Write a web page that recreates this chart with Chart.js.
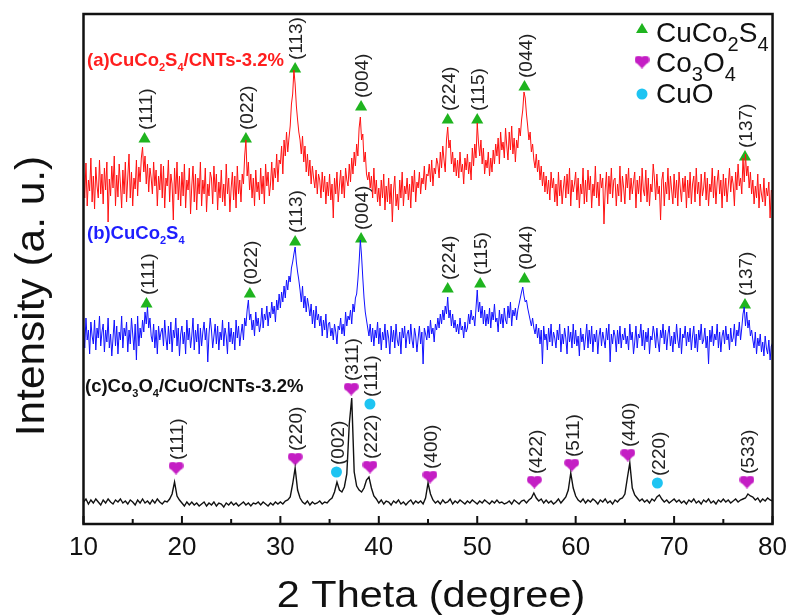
<!DOCTYPE html>
<html>
<head>
<meta charset="utf-8">
<script src="https://cdn.jsdelivr.net/npm/chart.js@4.4.1/dist/chart.umd.min.js"></script>
<style>
  html, body { margin: 0; padding: 0; background: #fff; }
  #wrap { width: 795px; height: 616px; }
</style>
</head>
<body>
<div id="wrap"><canvas id="xrd" width="795" height="616"></canvas></div>
<script>
const FONT = '"Liberation Sans", Arial, sans-serif';

// scan grids: start at 10 deg; sulfide scans at 0.125 deg, oxide scan at 0.25 deg
const thetaStart = 10;
const fineStep = 0.125;
const coarseStep = 0.25;

// (a) CuCo2S4/CNTs-3.2%  (one row per degree, 10..79, then 80)
const redCounts = [
  352,326,361,318,344,333,366,322,
  348,315,357,338,326,364,330,350,
  320,356,334,362,302,345,328,358,
  336,368,318,349,327,360,340,316,
  354,330,362,322,347,370,326,352,
  318,346,335,364,328,357,342,366,
  377,352,368,340,360,332,356,346,
  330,362,338,354,318,348,334,360,
  326,358,316,346,338,364,322,350,
  340,304,356,330,362,324,348,318,
  352,328,360,316,344,334,356,310,
  338,358,322,350,314,346,330,362,
  318,344,330,356,312,340,328,352,
  346,320,358,332,350,314,342,326,
  354,322,340,318,360,330,346,312,
  336,352,324,348,316,358,330,344,
  322,350,340,368,384,348,362,334,
  350,326,346,318,354,332,342,324,
  356,330,348,320,360,338,352,328,
  340,362,334,356,346,370,342,364,
  360,378,350,384,368,392,372,386,
  398,420,430,454,440,418,404,392,
  384,370,388,362,378,352,370,348,
  364,340,358,346,336,354,330,350,
  344,326,352,332,348,320,342,328,
  350,324,340,306,346,330,352,322,
  338,354,330,348,326,356,344,338,
  360,342,366,350,372,358,380,368,
  396,407,384,390,362,372,350,344,
  352,336,348,326,356,330,344,322,
  336,318,344,326,350,314,338,322,
  346,320,340,302,334,348,318,330,
  314,344,326,352,318,338,330,346,
  324,340,316,348,332,354,322,342,
  336,352,330,346,340,358,334,350,
  348,360,342,364,338,356,350,366,
  360,346,372,356,378,364,352,384,
  397,376,384,360,372,352,366,348,
  364,346,372,352,360,340,366,354,
  370,350,362,344,376,358,380,366,
  401,382,368,384,360,376,350,364,
  356,372,348,366,352,374,360,380,
  368,386,360,392,374,382,366,396,
  378,364,392,374,398,370,386,362,
  384,376,396,388,404,414,432,426,
  410,398,384,392,372,380,364,356,
  370,352,364,344,358,338,352,332,
  348,330,344,324,352,336,346,322,
  340,318,352,328,344,320,336,348,
  326,350,330,356,318,344,332,340,
  352,324,346,316,340,330,356,320,
  344,322,354,334,348,316,340,328,
  358,326,342,318,350,336,346,300,
  334,352,320,348,330,356,326,344,
  346,318,340,328,358,322,348,336,
  320,350,336,356,324,346,330,342,
  352,316,344,330,348,322,356,334,
  328,354,322,346,318,340,332,360,
  346,324,350,330,338,304,344,352,
  318,342,330,356,324,348,334,320,
  350,326,344,318,352,336,322,346,
  332,348,316,344,326,352,320,340,
  348,322,356,330,342,318,350,328,
  336,352,324,346,318,340,332,356,
  326,348,320,342,354,330,344,316,
  350,328,346,322,338,356,332,348,
  340,318,352,334,360,338,346,330,
  366,342,370,348,358,336,352,330,
  344,320,338,326,350,316,340,330,
  322,346,318,336,328,342,306,334,
  331
];

// (b) CuCo2S4
const blueCounts = [
  198,176,206,184,194,170,202,188,
  180,204,174,196,186,208,178,192,
  200,172,194,182,206,176,190,168,
  186,204,178,198,170,192,184,208,
  176,196,188,202,172,194,180,206,
  190,174,200,164,208,178,196,186,
  204,192,212,200,217,196,206,188,
  182,200,176,194,170,198,184,192,
  196,178,204,186,174,198,180,202,
  172,194,186,206,178,196,168,190,
  198,180,192,170,204,184,196,176,
  188,206,174,194,182,200,170,196,
  178,192,202,184,196,162,190,206,
  194,176,188,200,180,198,174,192,
  184,204,178,196,188,170,202,182,
  196,180,192,174,204,186,198,178,
  190,200,184,206,198,214,224,204,
  210,194,204,188,212,198,206,192,
  200,216,196,210,204,218,198,212,
  206,222,210,218,202,224,214,230,
  216,232,222,238,226,244,234,248,
  242,256,262,270,277,262,252,244,
  234,222,238,216,228,212,226,218,
  208,220,200,214,196,218,204,210,
  198,208,188,204,194,210,186,200,
  202,188,196,184,200,192,180,198,
  194,206,190,200,188,212,198,208,
  204,214,200,220,212,226,230,244,
  262,284,268,246,226,212,204,196,
  188,200,182,196,178,194,186,202,
  180,196,174,192,184,200,176,194,
  186,170,198,182,194,176,200,184,
  178,192,170,196,186,198,176,190,
  194,180,200,184,176,196,188,172,
  186,198,180,192,160,196,190,184,
  198,186,204,190,196,182,200,194,
  206,196,210,200,214,204,218,210,
  227,206,214,198,210,196,204,192,
  200,190,206,194,198,186,202,192,
  196,210,200,214,204,208,198,216,
  234,212,222,206,218,200,214,198,
  210,200,216,196,212,204,220,202,
  206,192,214,200,210,196,216,204,
  200,218,206,222,198,214,208,216,
  204,214,220,226,232,237,228,222,
  224,216,210,204,198,206,196,190,
  200,186,196,180,194,160,198,184,
  190,174,196,182,200,178,192,186,
  176,194,184,200,172,190,180,196,
  186,170,198,182,192,176,200,180,
  194,178,188,168,196,182,190,174,
  186,200,176,194,180,198,172,190,
  182,194,170,188,196,178,192,184,
  176,196,184,200,162,190,180,194,
  188,172,194,180,198,176,190,184,
  196,180,188,174,200,184,192,170,
  182,198,176,190,186,200,178,194,
  174,192,182,196,170,188,184,198,
  190,176,196,182,172,194,186,200,
  180,194,174,190,198,178,188,172,
  192,180,200,184,176,196,170,190,
  186,198,178,192,182,196,174,188,
  198,176,190,172,194,184,200,180,
  184,196,176,188,160,194,182,198,
  178,190,184,200,176,192,172,188,
  194,180,198,184,190,174,196,182,
  186,200,178,194,188,202,184,196,
  210,217,198,212,196,204,188,194,
  184,176,192,170,186,178,190,172,
  182,168,188,176,170,184,164,178,
  181
];

// (c) Co3O4/CuO/CNTs-3.2%  (two degrees per row, 10..79, then 80)
const blackCounts = [
  22,25,20,24, 21,25,22,19,
  24,21,25,22, 20,24,22,25,
  21,23,20,24, 22,19,24,21,
  25,21,23,20, 24,21,25,22,
  20,23,22,25, 30,42,28,24,
  21,18,22,19, 22,19,21,18,
  20,22,18,21, 19,22,18,21,
  20,17,21,19, 22,19,21,18,
  20,22,19,21, 18,21,20,22,
  19,22,20,18, 21,19,22,20,
  22,20,23,24, 27,40,56,34,
  26,22,20,23, 19,22,20,21,
  23,20,22,21, 24,26,32,42,
  34,32,37,50, 100,126,52,38,
  34,32,36,44, 47,36,28,25,
  21,24,20,23, 22,19,23,21,
  24,20,22,19, 22,24,20,23,
  21,23,20,26, 41,30,24,21,
  23,20,24,21, 22,25,20,23,
  21,24,22,20, 23,21,24,22,
  20,23,21,24, 22,20,23,21,
  24,21,22,20, 21,23,20,24,
  22,20,23,24, 21,24,26,31,
  26,23,25,21, 24,21,23,20,
  22,25,21,24, 27,34,51,36,
  28,24,22,25, 21,24,22,25,
  23,20,24,22, 25,21,23,20,
  24,22,25,26, 30,46,61,36,
  29,26,23,25, 22,24,21,25,
  23,27,29,25, 22,24,21,23,
  25,22,24,21, 23,20,24,22,
  25,21,23,20, 24,22,25,21,
  23,20,24,22, 25,22,24,21,
  23,25,22,24, 25,26,30,28,
  27,24,26,22, 25,23,26,24,
  23
];

// peak markers (2theta, marker height in intensity units, hkl)
const redPeakTheta = [16.2, 26.5, 31.5, 38.2, 47.0, 50.0, 54.8, 77.2];
const redPeakY = [385, 385, 455, 417, 404, 404, 437, 367];
const bluePeakTheta = [16.4, 26.9, 31.5, 38.2, 47.0, 50.3, 54.8, 77.2];
const bluePeakY = [220, 230, 282, 285, 235, 240, 245, 219];
const cuco2s4Hkl = ['(111)', '(022)', '(113)', '(004)', '(224)', '(115)', '(044)', '(137)'];

const co3o4Theta = [19.4, 31.5, 37.2, 39.1, 45.2, 55.8, 59.6, 65.3, 77.4];
const co3o4Y = [56, 65, 135, 57, 47, 42, 59, 69, 42];
const co3o4Hkl = ['(111)', '(220)', '(311)', '(222)', '(400)', '(422)', '(511)', '(440)', '(533)'];

const cuoTheta = [35.7, 39.1, 68.3];
const cuoY = [52, 120, 41];
const cuoHkl = ['(002)', '(111)', '(220)'];

const majorTicks = [10, 20, 30, 40, 50, 60, 70, 80];
const minorTicks = [15, 25, 35, 45, 55, 65, 75];

const GREEN = '#1fb41f', MAGENTA = '#c41ec4', CYAN = '#1ec4f2';

function makeHeart(color, w, h) {
  const c = document.createElement('canvas');
  c.width = w; c.height = h;
  const g = c.getContext('2d');
  g.fillStyle = color;
  const r = w * 0.27;
  g.beginPath();
  g.arc(w * 0.28, h * 0.33, r, 0, Math.PI * 2);
  g.arc(w * 0.72, h * 0.33, r, 0, Math.PI * 2);
  g.fill();
  g.beginPath();
  g.moveTo(w * 0.03, h * 0.45);
  g.lineTo(w * 0.97, h * 0.45);
  g.lineTo(w * 0.5, h);
  g.closePath();
  g.fill();
  return c;
}
const heart = makeHeart(MAGENTA, 15, 13);

const scan = (counts, step) => counts.map((v, i) => ({ x: thetaStart + i * step, y: v }));
const pairs = (xs, ys) => xs.map((v, i) => ({ x: v, y: ys[i] }));

function drawRich(ctx, x, y, parts, size, subSize, subShift, weight, color) {
  ctx.fillStyle = color;
  ctx.textAlign = 'left';
  ctx.textBaseline = 'alphabetic';
  parts.forEach(([t, sub]) => {
    ctx.font = `${weight} ${sub ? subSize : size}px ${FONT}`;
    ctx.fillText(t, x, sub ? y + subShift : y);
    x += ctx.measureText(t).width;
  });
}

const hklPlugin = {
  id: 'hkl',
  afterDatasetsDraw(chart) {
    const ctx = chart.ctx;
    ctx.save();
    ctx.fillStyle = '#222';
    ctx.font = `19px ${FONT}`;
    ctx.textAlign = 'left';
    ctx.textBaseline = 'middle';
    chart.data.datasets.forEach((ds, i) => {
      if (!ds.hkl) return;
      chart.getDatasetMeta(i).data.forEach((pt, j) => {
        ctx.save();
        ctx.translate(pt.x + 2, pt.y - ds.labelGap);
        ctx.rotate(-Math.PI / 2);
        ctx.fillText(ds.hkl[j], 0, 0);
        ctx.restore();
      });
    });
    ctx.restore();
  }
};

const framePlugin = {
  id: 'frame',
  afterDraw(chart) {
    const { ctx, chartArea: a } = chart;
    const xs = chart.scales.x;
    ctx.save();
    ctx.strokeStyle = '#111';
    ctx.lineWidth = 2.5;
    ctx.strokeRect(a.left, a.top, a.right - a.left, a.bottom - a.top);
    ctx.lineWidth = 2;
    ctx.beginPath();
    majorTicks.forEach(v => {
      const px = xs.getPixelForValue(v);
      ctx.moveTo(px, a.bottom); ctx.lineTo(px, a.bottom - 8);
    });
    minorTicks.forEach(v => {
      const px = xs.getPixelForValue(v);
      ctx.moveTo(px, a.bottom); ctx.lineTo(px, a.bottom - 5);
    });
    ctx.stroke();

    // axis titles
    ctx.fillStyle = '#111';
    ctx.textBaseline = 'alphabetic';
    ctx.textAlign = 'center';
    ctx.font = `36px ${FONT}`;
    ctx.save();
    ctx.translate(431, 607);
    ctx.scale(1.15, 1);
    ctx.fillText('2 Theta (degree)', 0, 0);
    ctx.restore();
    ctx.font = `40px ${FONT}`;
    ctx.save();
    ctx.translate(44, 296);
    ctx.rotate(-Math.PI / 2);
    ctx.scale(1.06, 1);
    ctx.fillText('Intensity (a. u.)', 0, 0);
    ctx.restore();

    // sample names
    drawRich(ctx, 87, 66, [['(a)CuCo', 0], ['2', 1], ['S', 0], ['4', 1], ['/CNTs-3.2%', 0]], 18.5, 11, 5, 'bold', '#ff1e1e');
    drawRich(ctx, 87, 239, [['(b)CuCo', 0], ['2', 1], ['S', 0], ['4', 1]], 18.5, 11, 5, 'bold', '#1e1eff');
    drawRich(ctx, 85, 392, [['(c)Co', 0], ['3', 1], ['O', 0], ['4', 1], ['/CuO/CNTs-3.2%', 0]], 18.5, 11, 5, 'bold', '#111');

    // phase key
    ctx.fillStyle = GREEN;
    ctx.beginPath();
    ctx.moveTo(642, 23); ctx.lineTo(648, 33); ctx.lineTo(636, 33); ctx.closePath();
    ctx.fill();
    ctx.drawImage(heart, 642 - 7.5, 62 - 6.5);
    ctx.fillStyle = CYAN;
    ctx.beginPath(); ctx.arc(642, 94, 5.5, 0, Math.PI * 2); ctx.fill();
    drawRich(ctx, 656, 42, [['CuCo', 0], ['2', 1], ['S', 0], ['4', 1]], 28, 20, 9, 'normal', '#111');
    drawRich(ctx, 656, 72, [['Co', 0], ['3', 1], ['O', 0], ['4', 1]], 28, 20, 9, 'normal', '#111');
    drawRich(ctx, 656, 103, [['CuO', 0]], 28, 20, 9, 'normal', '#111');
    ctx.restore();
  }
};

Chart.defaults.font.family = FONT;

new Chart(document.getElementById('xrd'), {
  type: 'line',
  data: {
    datasets: [
      { data: scan(redCounts, fineStep), borderColor: '#ff1010', borderWidth: 1, pointRadius: 0 },
      { data: scan(blueCounts, fineStep), borderColor: '#1010ff', borderWidth: 1, pointRadius: 0 },
      { data: scan(blackCounts, coarseStep), borderColor: '#111', borderWidth: 1.4, pointRadius: 0 },
      { data: pairs(redPeakTheta, redPeakY), showLine: false, pointStyle: 'triangle', pointRadius: 7,
        backgroundColor: GREEN, borderWidth: 0, hkl: cuco2s4Hkl, labelGap: 9 },
      { data: pairs(bluePeakTheta, bluePeakY), showLine: false, pointStyle: 'triangle', pointRadius: 7,
        backgroundColor: GREEN, borderWidth: 0, hkl: cuco2s4Hkl, labelGap: 9 },
      { data: pairs(co3o4Theta, co3o4Y), showLine: false, pointStyle: heart, pointRadius: 7,
        hkl: co3o4Hkl, labelGap: 8 },
      { data: pairs(cuoTheta, cuoY), showLine: false, pointStyle: 'circle', pointRadius: 5.5,
        backgroundColor: CYAN, borderWidth: 0, hkl: cuoHkl, labelGap: 7 }
    ]
  },
  options: {
    responsive: false,
    animation: false,
    clip: false,
    layout: { padding: { top: 14, right: 17, left: 0, bottom: 0 } },
    plugins: { legend: { display: false }, tooltip: { enabled: false } },
    scales: {
      x: {
        type: 'linear', min: 10, max: 80,
        ticks: { stepSize: 10, color: '#111', font: { size: 26 }, padding: 8 },
        grid: { display: false, drawTicks: false },
        border: { display: false },
        afterFit: s => { s.height = 92; }
      },
      y: {
        min: 0, max: 510,
        ticks: { display: false },
        grid: { display: false, drawTicks: false },
        border: { display: false },
        afterFit: s => { s.width = 83.5; }
      }
    }
  },
  plugins: [hklPlugin, framePlugin]
});
</script>
</body>
</html>
